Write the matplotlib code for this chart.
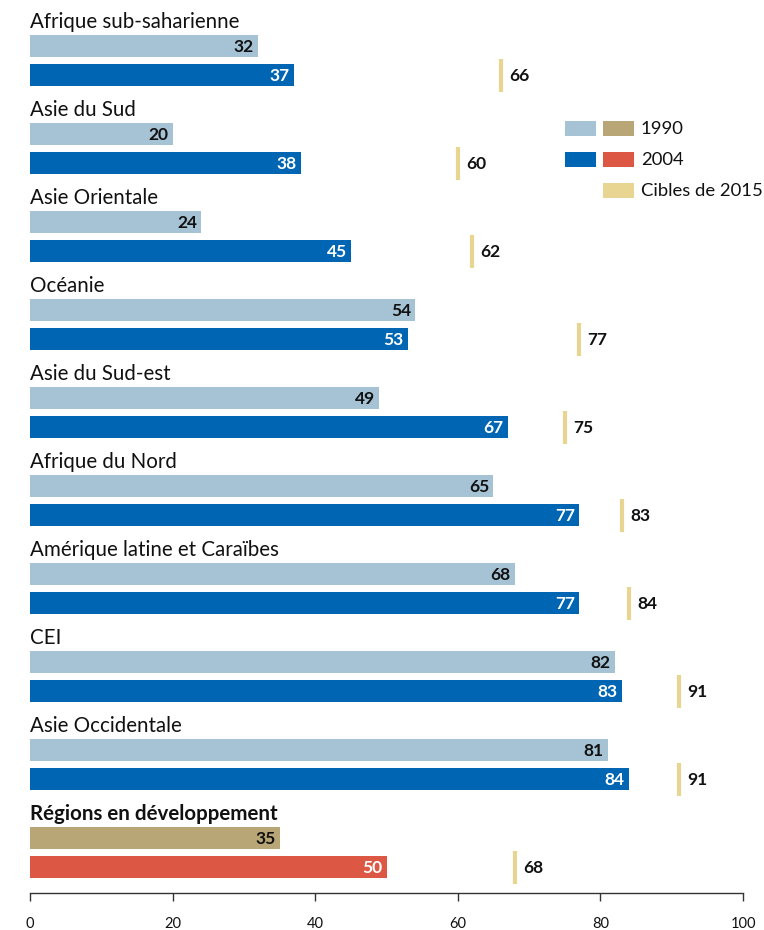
import numpy as np
import matplotlib.pyplot as plt
from matplotlib.patches import Rectangle

plt.rcParams['font.family'] = ['Lato', 'DejaVu Sans']

regions = ["Afrique sub-saharienne", "Asie du Sud", "Asie Orientale", "Océanie",
           "Asie du Sud-est", "Afrique du Nord", "Amérique latine et Caraïbes",
           "CEI", "Asie Occidentale", "Régions en développement"]
val_1990 = [32, 20, 24, 54, 49, 65, 68, 82, 81, 35]
val_2004 = [37, 38, 45, 53, 67, 77, 77, 83, 84, 50]
cible_2015 = [66, 60, 62, 77, 75, 83, 84, 91, 91, 68]

c90 = '#a6c3d5'
c04 = '#0066b3'
c90_dev = '#b9a677'
c04_dev = '#dc5844'
c_cible = '#e8d592'

W, H = 764, 930
fig = plt.figure(figsize=(W / 100, H / 100), dpi=100)
ax_bottom = 893
ax = fig.add_axes([30 / W, (H - ax_bottom) / H, (743 - 30) / W, ax_bottom / H])
ax.set_xlim(0, 100)
ax.set_ylim(ax_bottom, 0)

step = 88
bh = 22
for i, name in enumerate(regions):
    y90 = 46 + step * i
    y04 = 75 + step * i
    last = (i == len(regions) - 1)
    col90 = c90_dev if last else c90
    col04 = c04_dev if last else c04
    ax.barh(y90, val_1990[i], height=bh, color=col90, left=0)
    ax.barh(y04, val_2004[i], height=bh, color=col04, left=0)
    ax.text(0, y90 - bh / 2 - 3, name, ha='left', va='bottom', fontsize=14.8,
            fontweight='bold' if last else 'normal', color='#111111')
    ax.annotate(str(val_1990[i]), (val_1990[i], y90), xytext=(-3, -0.5),
                textcoords='offset points', ha='right', va='center',
                fontsize=12.5, fontweight='bold', color='#111111')
    ax.annotate(str(val_2004[i]), (val_2004[i], y04), xytext=(-3, -0.5),
                textcoords='offset points', ha='right', va='center',
                fontsize=12.5, fontweight='bold', color='white')
    ax.plot([cible_2015[i], cible_2015[i]], [y04 - 16, y04 + 17],
            color=c_cible, lw=3, solid_capstyle='butt')
    ax.annotate(str(cible_2015[i]), (cible_2015[i], y04 + 1), xytext=(6, 0),
                textcoords='offset points', ha='left', va='center',
                fontsize=12.5, fontweight='bold', color='#111111')

# legend drawn by hand
leg = fig.add_axes([0, 0, 1, 1], facecolor='none')
leg.set_xlim(0, W)
leg.set_ylim(H, 0)
leg.axis('off')
rows = [(129, c90, c90_dev, '1990'), (160, c04, c04_dev, '2004'),
        (191, None, c_cible, 'Cibles de 2015')]
for yc, ca, cb, lab in rows:
    if ca:
        leg.add_patch(Rectangle((565, yc - 7.5), 31, 15, color=ca, lw=0))
    leg.add_patch(Rectangle((603, yc - 7.5), 31, 15, color=cb, lw=0))
    leg.text(641, yc, lab, ha='left', va='center', fontsize=13.3, color='#111111')

for s in ['top', 'right', 'left']:
    ax.spines[s].set_visible(False)
ax.spines['bottom'].set_color('#333333')
ax.spines['bottom'].set_linewidth(1)
ax.set_yticks([])
ax.set_xticks(np.arange(0, 101, 20))
ax.tick_params(axis='x', length=6, width=1, color='#333333', labelsize=10.5,
               pad=11, labelcolor='#111111')

fig.savefig('out.png', dpi=100)
